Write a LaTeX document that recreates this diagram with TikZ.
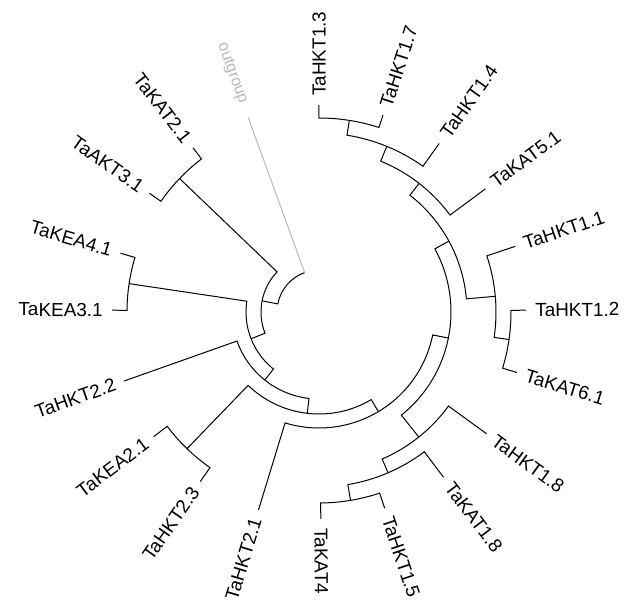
\documentclass[tikz,border=0pt]{standalone}
\usepackage{fontspec}
\setmainfont{Liberation Sans}
\definecolor{oggray}{RGB}{185,185,185}
\begin{document}
\begin{tikzpicture}[x=0.75pt,y=0.75pt,
  br/.style={line width=0.75pt, line join=miter},
  lab/.style={font=\fontsize{14.2}{16}\selectfont, inner sep=0pt},
  labR/.style={lab, anchor=west},
  labL/.style={lab, anchor=east}]
\useasboundingbox (-319,-296) rectangle (307,312);
% ---------- tips ----------
\coordinate (t13) at (90:207);
\coordinate (t17) at (72:207);
\coordinate (t14) at (54.5:207);
\coordinate (k51) at (36.5:207);
\coordinate (t11) at (18.5:207);
\coordinate (t12) at (0.5:207);
\coordinate (k61) at (-17:207);
\coordinate (t18) at (-36:207);
\coordinate (k18) at (-53:207);
\coordinate (t15) at (-71.5:207);
\coordinate (k4)  at (-89.5:207);
\coordinate (t21) at (-107:207);
\coordinate (t23) at (-125:207);
\coordinate (e21) at (-143:207);
\coordinate (t22) at (-160.5:207);
\coordinate (e31) at (179.5:207);
\coordinate (e41) at (163.5:207);
\coordinate (a31) at (145:207);
\coordinate (k21) at (127.5:207);
\coordinate (og)  at (110:207);
% ---------- internal nodes ----------
\coordinate (A) at (81:194);
\coordinate (B) at (67.75:179);
\coordinate (C) at (52.1:163);
\coordinate (E) at (-8.25:192);
\coordinate (D) at (5.1:177);
\coordinate (F) at (28.6:148);
\coordinate (W) at (-80.5:191);
\coordinate (Z) at (-66.75:175);
\coordinate (Y) at (-51.4:160);
\coordinate (G) at (-11.4:132);
\coordinate (H) at (-59.2:116);
\coordinate (K) at (-134:190);
\coordinate (I) at (-96.6:102);
\coordinate (J) at (-128.55:87);
\coordinate (O) at (171.5:192);
\coordinate (M) at (201.5:73);
\coordinate (P) at (136.25:193);
\coordinate (N) at (168.9:58);
% ---------- branches ----------
\draw[br] (t13) -- (90:194) arc[start angle=90, end angle=72, radius=194] -- (t17);
\draw[br] (A) -- (81:179) arc[start angle=81, end angle=54.5, radius=179] -- (t14);
\draw[br] (B) -- (67.75:163) arc[start angle=67.75, end angle=36.5, radius=163] -- (k51);
\draw[br] (t12) -- (0.5:192) arc[start angle=0.5, end angle=-17, radius=192] -- (k61);
\draw[br] (t11) -- (18.5:177) arc[start angle=18.5, end angle=-8.25, radius=177] -- (E);
\draw[br] (C) -- (52.1:148) arc[start angle=52.1, end angle=5.1, radius=148] -- (D);
\draw[br] (t15) -- (-71.5:191) arc[start angle=-71.5, end angle=-89.5, radius=191] -- (k4);
\draw[br] (k18) -- (-53:175) arc[start angle=-53, end angle=-80.5, radius=175] -- (W);
\draw[br] (t18) -- (-36:160) arc[start angle=-36, end angle=-66.75, radius=160] -- (Z);
\draw[br] (F) -- (28.6:132) arc[start angle=28.6, end angle=-51.4, radius=132] -- (Y);
\draw[br] (G) -- (-11.4:116) arc[start angle=-11.4, end angle=-107, radius=116] -- (t21);
\draw[br] (t23) -- (-125:190) arc[start angle=-125, end angle=-143, radius=190] -- (e21);
\draw[br] (H) -- (-59.2:102) arc[start angle=-59.2, end angle=-134, radius=102] -- (K);
\draw[br] (I) -- (-96.6:87) arc[start angle=-96.6, end angle=-160.5, radius=87] -- (t22);
\draw[br] (e31) -- (179.5:192) arc[start angle=179.5, end angle=163.5, radius=192] -- (e41);
\draw[br] (J) -- (231.45:73) arc[start angle=231.45, end angle=171.5, radius=73] -- (O);
\draw[br] (a31) -- (145:193) arc[start angle=145, end angle=127.5, radius=193] -- (k21);
\draw[br] (M) -- (201.5:58) arc[start angle=201.5, end angle=136.25, radius=58] -- (P);
\draw[br] (N) -- (168.9:42) arc[start angle=168.9, end angle=110, radius=42];
\draw[br, oggray] (110:42) -- (og);
% ---------- labels ----------
\node[labR, rotate=90]    (Lt13) at (90:216)    {TaHKT1.3};
\node[labR, rotate=72]    (Lt17) at (72:216)    {TaHKT1.7};
\node[labR, rotate=54.5]  (Lt14) at (54.5:216)  {TaHKT1.4};
\node[labR, rotate=36.5]  (Lk51) at (36.5:216)  {TaKAT5.1};
\node[labR, rotate=18.5]  (Lt11) at (18.5:216)  {TaHKT1.1};
\node[labR, rotate=0.5]   (Lt12) at (0.5:216)   {TaHKT1.2};
\node[labR, rotate=-17]   (Lk61) at (-17:216)   {TaKAT6.1};
\node[labR, rotate=-36]   (Lt18) at (-36:216)   {TaHKT1.8};
\node[labR, rotate=-53]   (Lk18) at (-53:216)   {TaKAT1.8};
\node[labR, rotate=-71.5] (Lt15) at (-71.5:216) {TaHKT1.5};
\node[labR, rotate=-89.5] (Lk4)  at (-89.5:216) {TaKAT4};
\node[labL, rotate=73]    (Lt21) at (-107:216)  {TaHKT2.1};
\node[labL, rotate=55]    (Lt23) at (-125:216)  {TaHKT2.3};
\node[labL, rotate=37]    (Le21) at (-143:216)  {TaKEA2.1};
\node[labL, rotate=19.5]  (Lt22) at (-160.5:216){TaHKT2.2};
\node[labL, rotate=-0.5]  (Le31) at (179.5:216) {TaKEA3.1};
\node[labL, rotate=-16.5] (Le41) at (163.5:216) {TaKEA4.1};
\node[labL, rotate=-35]   (La31) at (145:216)   {TaAKT3.1};
\node[labL, rotate=-52.5] (Lk21) at (127.5:216) {TaKAT2.1};
\node[lab, anchor=east, rotate=-70, font=\fontsize{12}{14}\selectfont, text=oggray] (Log) at (110:222) {outgroup};
\end{tikzpicture}
\end{document}
